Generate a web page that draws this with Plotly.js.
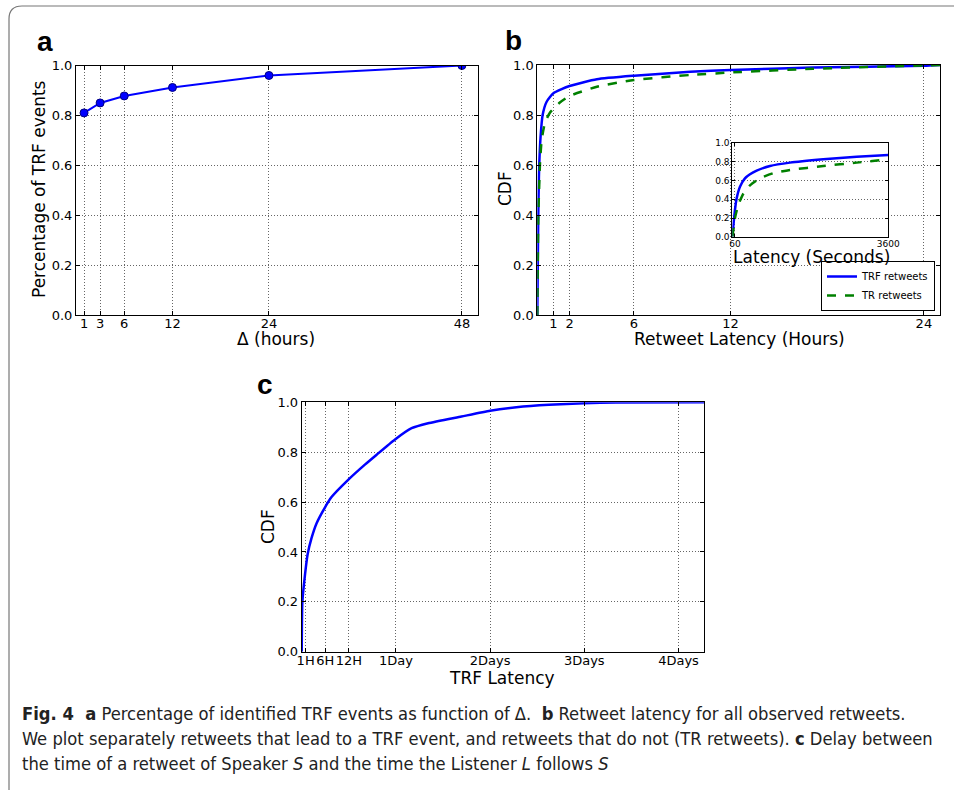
<!DOCTYPE html>
<html>
<head>
<meta charset="utf-8">
<script src="https://cdn.plot.ly/plotly-3.0.1.min.js"></script>
<style>
  html, body { margin: 0; padding: 0; background: #fff; }
  #chart { width: 954px; height: 790px; }
</style>
</head>
<body>
<div id="chart"></div>
<script>
// ---- Panel a: share of TRF events vs Δ ----
const deltaHours = [1, 3, 6, 12, 24, 48];
const trfShare = [0.81, 0.85, 0.878, 0.912, 0.96, 1.0];
const aTickVals = [1, 3, 6, 12, 24, 48];

// ---- Panel b: retweet latency CDF (hours) ----
const bHoursTRF = [0, 0.03, 0.06, 0.1, 0.12, 0.2, 0.33, 0.58, 1.0, 2, 3.7, 6, 9.5, 12, 17.1, 24, 25];
const bCdfTRF   = [0, 0.2, 0.4, 0.55, 0.6, 0.71, 0.80, 0.853, 0.887, 0.916, 0.943, 0.957, 0.973, 0.98, 0.99, 0.997, 1.0];
const bHoursTR  = [0, 0.03, 0.06, 0.17, 0.27, 0.48, 0.79, 1.4, 2, 3.7, 6, 9.5, 12, 17.1, 24, 25];
const bCdfTR    = [0, 0.2, 0.39, 0.61, 0.70, 0.77, 0.81, 0.85, 0.876, 0.913, 0.94, 0.96, 0.97, 0.985, 0.998, 1.0];
const bTickVals = [1, 2, 6, 12, 24];

// ---- Panel b inset: latency within first hour (seconds) ----
const insSecTRF = [0, 23, 62, 100, 177, 292, 408, 562, 870, 1330, 2100, 2870, 3600];
const insCdfTRF = [0, 0.11, 0.29, 0.41, 0.535, 0.625, 0.668, 0.707, 0.757, 0.793, 0.829, 0.857, 0.875];
const insSecTR  = [0, 23, 62, 138, 254, 408, 638, 946, 1330, 2100, 2870, 3600];
const insCdfTR  = [0, 0.07, 0.2, 0.34, 0.46, 0.55, 0.625, 0.68, 0.714, 0.757, 0.793, 0.829];
const insTickVals = [60, 3600];

// ---- Panel c: TRF latency CDF (hours) ----
const cHours = [0, 0.05, 0.17, 0.85, 1.5, 2.5, 3.8, 5.8, 7.6, 11.9, 16.1, 19.1, 23.7, 28, 32.2, 40.7, 48, 54.7, 63, 71.9, 80, 102.5];
const cCdf   = [0, 0.1, 0.2, 0.31, 0.39, 0.455, 0.515, 0.575, 0.62, 0.69, 0.75, 0.79, 0.85, 0.896, 0.916, 0.943, 0.966, 0.98, 0.99, 0.996, 0.999, 1.0];
const cTickVals = [1, 6, 12, 24, 48, 72, 96];
const cTickText = ['1H', '6H', '12H', '1Day', '2Days', '3Days', '4Days'];

const yTickVals = [0, 0.2, 0.4, 0.6, 0.8, 1.0];

const BLUE = '#0000ff';
const GREEN = '#008000';
const FONT = 'DejaVu Sans, sans-serif';

const traces = [
  { x: deltaHours, y: trfShare, xaxis: 'x', yaxis: 'y', mode: 'lines+markers', showlegend: false,
    line: { color: BLUE, width: 2 }, marker: { color: BLUE, size: 8, line: { color: '#000080', width: 1 } } },
  { x: bHoursTRF, y: bCdfTRF, xaxis: 'x2', yaxis: 'y2', mode: 'lines', name: 'TRF retweets',
    line: { color: BLUE, width: 2.5, shape: 'spline', smoothing: 0.5 } },
  { x: bHoursTR, y: bCdfTR, xaxis: 'x2', yaxis: 'y2', mode: 'lines', name: 'TR retweets',
    line: { color: GREEN, width: 2.5, dash: 'dash', shape: 'spline', smoothing: 0.5 } },
  { x: insSecTRF, y: insCdfTRF, xaxis: 'x3', yaxis: 'y3', mode: 'lines', showlegend: false,
    line: { color: BLUE, width: 2.5, shape: 'spline', smoothing: 0.5 } },
  { x: insSecTR, y: insCdfTR, xaxis: 'x3', yaxis: 'y3', mode: 'lines', showlegend: false,
    line: { color: GREEN, width: 2.5, dash: 'dash', shape: 'spline', smoothing: 0.5 } },
  { x: cHours, y: cCdf, xaxis: 'x4', yaxis: 'y4', mode: 'lines', showlegend: false,
    line: { color: BLUE, width: 2.5, shape: 'spline', smoothing: 0.5 } }
];

function ax(extra) {
  return Object.assign({
    showline: true, linecolor: '#000', linewidth: 1, mirror: 'ticks',
    ticks: 'inside', ticklen: 4, tickcolor: '#000', tickangle: 0,
    showgrid: true, gridcolor: '#666', gridwidth: 1, griddash: '1px,2px',
    zeroline: false, tickfont: { family: FONT, size: 13, color: '#000' },
    automargin: false
  }, extra);
}
const titleFont = { family: FONT, size: 17, color: '#000' };
const capFont = { family: 'Liberation Sans Narrow, DejaVu Sans Condensed, sans-serif', size: 18.2, color: '#222' };
const letterFont = { family: 'Liberation Sans, Arial, sans-serif', size: 28, color: '#000' };

const W = 954, H = 790;
const px = v => v / W;
const py = v => 1 - v / H;

function label(text, x, y, font, angle) {
  return { text: text, xref: 'paper', yref: 'paper', x: px(x), y: py(y), xanchor: 'center', yanchor: 'middle',
    showarrow: false, font: font, textangle: angle || 0 };
}
function capLine(text, y) {
  return { text: text, xref: 'paper', yref: 'paper', x: px(20), y: py(y), xanchor: 'left', yanchor: 'middle',
    showarrow: false, font: capFont };
}

const layout = {
  width: W, height: H,
  margin: { l: 0, r: 0, t: 0, b: 0 },
  paper_bgcolor: '#fff', plot_bgcolor: '#fff',
  showlegend: true,
  legend: { x: px(935), y: py(311), xanchor: 'right', yanchor: 'bottom',
    bordercolor: '#000', borderwidth: 1, bgcolor: '#fff',
    font: { family: FONT, size: 10, color: '#000' }, tracegroupgap: 0 },
  xaxis: ax({ domain: [px(76), px(478)], range: [0, 50], anchor: 'y', tickvals: aTickVals, ticklabelstandoff: -4 }),
  yaxis: ax({ domain: [py(315), py(65.5)], range: [0, 1], anchor: 'x', tickvals: yTickVals, tickformat: '.1f' }),
  xaxis2: ax({ domain: [px(537.3), px(940)], range: [0, 25], anchor: 'y2', tickvals: bTickVals, ticklabelstandoff: -4 }),
  yaxis2: ax({ domain: [py(315), py(65)], range: [0, 1], anchor: 'x2', tickvals: yTickVals, tickformat: '.1f' }),
  xaxis3: ax({ domain: [px(732.3), px(888.3)], range: [0, 3600], anchor: 'y3', tickvals: insTickVals,
    tickfont: { family: FONT, size: 9, color: '#000' }, ticklen: 3, ticklabelstandoff: -2 }),
  yaxis3: ax({ domain: [py(236.7), py(143.3)], range: [0, 1], anchor: 'x3', tickvals: yTickVals, tickformat: '.1f',
    tickfont: { family: FONT, size: 9, color: '#000' }, ticklen: 3 }),
  xaxis4: ax({ domain: [px(301.7), px(704)], range: [0, 102.5], anchor: 'y4', tickvals: cTickVals, ticktext: cTickText,
    ticklabelstandoff: -3 }),
  yaxis4: ax({ domain: [py(651.7), py(402.3)], range: [0, 1], anchor: 'x4', tickvals: yTickVals, tickformat: '.1f' }),
  shapes: [
    { type: 'path', xref: 'paper', yref: 'paper', layer: 'above',
      path: `M ${px(954)} ${py(6)} L ${px(22)} ${py(6)} Q ${px(9)} ${py(6)} ${px(9)} ${py(19)} L ${px(9)} ${py(790)}`,
      line: { color: '#777', width: 1.2 } }
  ],
  annotations: [
    label('<b>a</b>', 45, 42, letterFont),
    label('<b>b</b>', 513, 40, letterFont),
    label('<b>c</b>', 265, 385, letterFont),
    // axis titles
    label('Δ (hours)', 276, 339, titleFont),
    label('Percentage of TRF events', 39, 189, titleFont, -90),
    label('Retweet Latency (Hours)', 739, 339, titleFont),
    label('CDF', 505, 188, titleFont, -90),
    label('Latency (Seconds)', 811, 257, titleFont),
    label('TRF Latency', 502, 678, titleFont),
    label('CDF', 268, 527, titleFont, -90),
    // caption
    capLine('<b>Fig. 4  a</b> Percentage of identified TRF events as function of Δ.  <b>b</b> Retweet latency for all observed retweets.', 713),
    capLine('We plot separately retweets that lead to a TRF event, and retweets that do not (TR retweets). <b>c</b> Delay between', 738),
    capLine('the time of a retweet of Speaker <i>S</i> and the time the Listener <i>L</i> follows <i>S</i>', 763)
  ]
};

Plotly.newPlot('chart', traces, layout, { staticPlot: true, displayModeBar: false });
</script>
</body>
</html>
